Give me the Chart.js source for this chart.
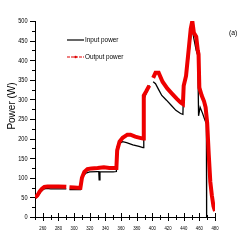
<!DOCTYPE html>
<html><head><meta charset="utf-8">
<script src="https://cdn.jsdelivr.net/npm/chart.js@4"></script>
<style>html,body{margin:0;padding:0;background:#fff}#wrap{width:243px;height:243px}</style>
</head><body><div id="wrap"><canvas id="c" width="243" height="243"></canvas></div>
<script>
const inputTime  = [250,252,255,258,261,265,270,280,290,291,294,300,308,310,312,315,320,330,331.5,332,333,340,350,354,355,358,362,367,375,383,388,389,392,395,396,398,401,404,408,412,418,424,430,436,439,440,443,446,449,451,453,456,458,459,461,464,467,469,469.3];
const inputPower = [48,50,58,66,71,73,72,72,72,null,70,70,70,95,105,112,115,116,116,95,115,115,115,116,180,188,192,190,184,180,177,300,315,330,336,null,345,340,325,310,298,285,272,264,262,340,360,400,460,478,455,425,412,258,280,265,248,238,0];
const outputTime  = [250,253,256,259,262,266,272,280,290,291,294,300,308,310,313,317,322,330,338,345,354,355,358,362,368,372,378,384,388,389,392,396,398,401,404,408,413,419,425,431,436,439,440,443,446,449,451,453,456,458,459,460,463,466,468,470,472,474,476,478,480];
const outputPower = [50,55,65,72,77,78,78,78,77,null,76,75,74,100,115,122,124,125,127,125,125,170,192,202,210,210,205,202,200,310,320,335,null,355,368,368,345,328,315,302,292,288,335,360,420,480,500,470,460,425,415,330,310,295,280,240,160,90,55,28,15];
const xTickLabels = [260,280,300,320,340,360,380,400,420,440,460,480];
const yTickLabels = [0,50,100,150,200,250,300,350,400,450,500];
const seriesNames = ['Input power','Output power'];
const yTitle = 'Power (W)';

const pts = (xs, ys) => xs.map((x,i)=>({x:x, y:ys[i]}));
const tickFont = "Arial,'Liberation Sans',sans-serif";

const decor = {
  id:'decor',
  afterDraw(chart){
    const ctx = chart.ctx, xs = chart.scales.x, ys = chart.scales.y;
    ctx.save();
    ctx.strokeStyle = '#000'; ctx.lineWidth = 1;
    for (let v = 250; v <= 480; v += 10) {
      const px = Math.round(xs.getPixelForValue(v)) + 0.5;
      const major = xTickLabels.includes(v);
      ctx.beginPath();
      ctx.moveTo(px, ys.bottom - (major ? 4 : 2));
      ctx.lineTo(px, ys.bottom + (major ? 4 : 3));
      ctx.stroke();
    }
    for (let v = 0; v <= 500; v += 25) {
      const py = Math.round(ys.getPixelForValue(v)) + 0.5;
      const major = yTickLabels.includes(v);
      ctx.beginPath();
      ctx.moveTo(xs.left - (major ? 5 : 3), py);
      ctx.lineTo(xs.left, py);
      ctx.stroke();
    }
    // y tick labels (condensed)
    ctx.fillStyle = '#000';
    ctx.font = "7px " + tickFont;
    ctx.textAlign = 'right'; ctx.textBaseline = 'middle';
    yTickLabels.forEach(v => {
      const py = ys.getPixelForValue(v);
      ctx.save(); ctx.translate(27.5, py); ctx.scale(0.8, 1);
      ctx.fillText(String(v), 0, 0.5);
      ctx.restore();
    });
    // x tick labels (condensed)
    ctx.font = "5px " + tickFont;
    ctx.textAlign = 'center'; ctx.textBaseline = 'middle';
    xTickLabels.forEach(v => {
      const px = xs.getPixelForValue(v);
      ctx.save(); ctx.translate(px, 229); ctx.scale(0.85, 1);
      ctx.fillText(String(v), 0, 0);
      ctx.restore();
    });
    // y title
    ctx.save();
    ctx.translate(12, 106);
    ctx.rotate(-Math.PI/2);
    ctx.font = "10px Arial, 'Liberation Sans', sans-serif";
    ctx.textAlign = 'center'; ctx.textBaseline = 'middle';
    ctx.fillText(yTitle, 0, 0);
    ctx.restore();
    // legend
    ctx.textBaseline = 'middle'; ctx.textAlign = 'left';
    ctx.strokeStyle = '#000'; ctx.lineWidth = 1.2;
    ctx.beginPath(); ctx.moveTo(67, 40); ctx.lineTo(84, 40); ctx.stroke();
    ctx.strokeStyle = '#e00000';
    ctx.setLineDash([3,1]);
    ctx.beginPath(); ctx.moveTo(67, 57); ctx.lineTo(84, 57); ctx.stroke();
    ctx.setLineDash([]);
    ctx.fillStyle = '#e00000'; ctx.beginPath(); ctx.arc(75.5, 57, 1.3, 0, Math.PI*2); ctx.fill();
    ctx.fillStyle = '#000';
    ctx.font = "8px " + tickFont;
    [[seriesNames[0], 40], [seriesNames[1], 57]].forEach(([t, y]) => {
      ctx.save(); ctx.translate(85, y); ctx.scale(0.8, 1); ctx.fillText(t, 0, 0); ctx.restore();
    });
    ctx.save(); ctx.translate(229, 33); ctx.scale(0.85, 1);
    ctx.fillText('(a)', 0, 0); ctx.restore();
    ctx.restore();
  }
};

new Chart(document.getElementById('c'), {
  type: 'line',
  data: {
    datasets: [
      {label: seriesNames[0], data: pts(inputTime, inputPower), borderColor: '#000', borderWidth: 1.3, pointRadius: 0, spanGaps: false, tension: 0, order: 1},
      {label: seriesNames[1], data: pts(outputTime, outputPower), borderColor: '#ee0000', borderWidth: 4, pointRadius: 0, spanGaps: false, tension: 0, order: 0}
    ]
  },
  options: {
    responsive: false, animation: false, devicePixelRatio: 1,
    layout: {padding: {left: 0, right: 28, top: 21, bottom: 0}},
    plugins: {legend: {display: false}, tooltip: {enabled: false}},
    scales: {
      x: {
        type: 'linear', min: 250, max: 480,
        afterBuildTicks: s => { s.ticks = xTickLabels.map(v => ({value: v})); },
        afterFit: s => { s.height = 26; },
        grid: {display: false},
        border: {display: true, color: '#000', width: 1},
        ticks: {display: false}
      },
      y: {
        min: 0, max: 500,
        afterBuildTicks: s => { s.ticks = yTickLabels.map(v => ({value: v})); },
        afterFit: s => { s.width = 35; },
        grid: {display: false},
        border: {display: true, color: '#000', width: 1},
        ticks: {display: false}
      }
    }
  },
  plugins: [decor]
});
</script></body></html>
